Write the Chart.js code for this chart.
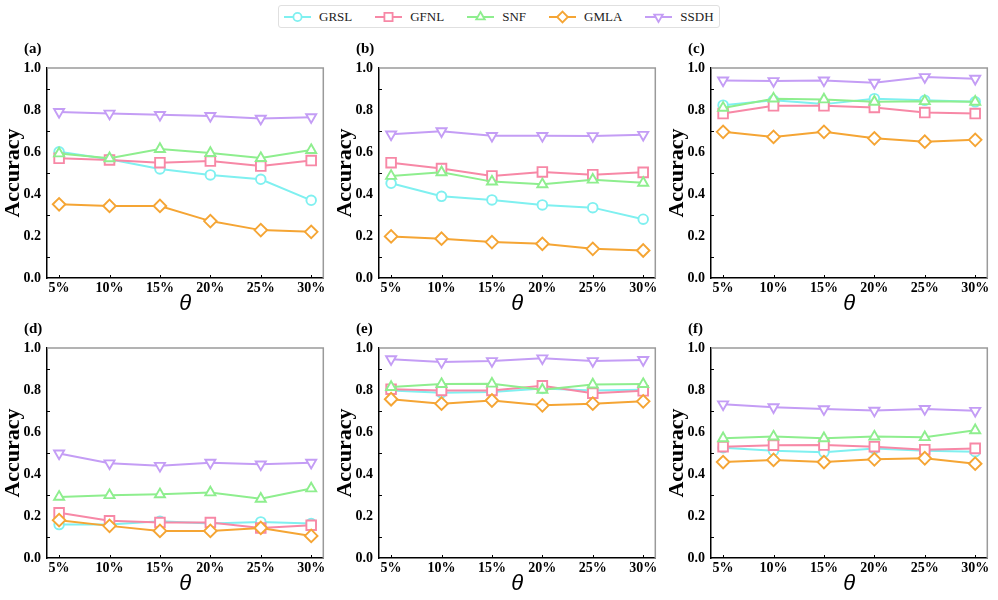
<!DOCTYPE html>
<html>
<head>
<meta charset="utf-8">
<script src="https://cdn.jsdelivr.net/npm/chart.js@4.4.1/dist/chart.umd.min.js"></script>
<style>
  body { margin: 0; width: 998px; height: 600px; background: #fff; position: relative; overflow: hidden; }
  .panel { position: absolute; width: 332px; height: 280px; }
  #legend {
    position: absolute; left: 278px; top: 5px; height: 21px;
    display: inline-flex; align-items: center; padding: 0 5px;
    border: 1px solid #e0e0e0; border-radius: 3px;
    font: 13px "Liberation Serif", serif; color: #222;
  }
  #legend .item { display: flex; align-items: center; margin-left: 23px; }
  #legend .item:first-child { margin-left: 0; }
  #legend span { margin-left: 8px; }
</style>
</head>
<body>
<div id="legend"></div>
<script>
const thetaLabels = ['5%', '10%', '15%', '20%', '25%', '30%'];
const seriesNames = ['GRSL', 'GFNL', 'SNF', 'GMLA', 'SSDH'];
const seriesColors = ['#7ff0f0', '#f788a6', '#8eee8e', '#f5a534', '#c49df5'];
const pointStyles = ['circle', 'rect', 'triangle', 'rectRot', 'triangle'];
const pointRotations = [0, 0, 0, 0, 180];
const pointSizes = [4.8, 6.8, 5.8, 6.3, 5.8];
const minorTicks = [0.1, 0.3, 0.5, 0.7, 0.9];
const panelLabels = ['(a)', '(b)', '(c)', '(d)', '(e)', '(f)'];

// rows follow seriesNames: GRSL, GFNL, SNF, GMLA, SSDH
const panelA = [
  [0.601, 0.565, 0.519, 0.491, 0.470, 0.370],
  [0.570, 0.562, 0.549, 0.557, 0.533, 0.559],
  [0.593, 0.570, 0.614, 0.595, 0.571, 0.609],
  [0.351, 0.343, 0.343, 0.271, 0.228, 0.220],
  [0.791, 0.783, 0.777, 0.772, 0.759, 0.766]
];
const panelB = [
  [0.451, 0.389, 0.372, 0.348, 0.335, 0.280],
  [0.549, 0.521, 0.486, 0.505, 0.492, 0.503],
  [0.486, 0.503, 0.459, 0.446, 0.468, 0.453],
  [0.198, 0.187, 0.171, 0.163, 0.139, 0.131],
  [0.684, 0.699, 0.677, 0.677, 0.676, 0.682]
];
const panelC = [
  [0.823, 0.846, 0.828, 0.854, 0.846, 0.839],
  [0.783, 0.820, 0.820, 0.812, 0.788, 0.783],
  [0.810, 0.854, 0.850, 0.839, 0.842, 0.839],
  [0.696, 0.672, 0.696, 0.665, 0.649, 0.658],
  [0.941, 0.938, 0.941, 0.930, 0.957, 0.949]
];
const panelD = [
  [0.159, 0.159, 0.175, 0.164, 0.172, 0.164],
  [0.215, 0.177, 0.169, 0.169, 0.143, 0.156],
  [0.291, 0.299, 0.303, 0.312, 0.282, 0.331],
  [0.180, 0.153, 0.129, 0.129, 0.143, 0.105],
  [0.498, 0.451, 0.439, 0.454, 0.446, 0.454]
];
const panelE = [
  [0.798, 0.787, 0.791, 0.807, 0.798, 0.801],
  [0.804, 0.798, 0.798, 0.820, 0.785, 0.796],
  [0.814, 0.828, 0.830, 0.801, 0.826, 0.828],
  [0.756, 0.735, 0.750, 0.727, 0.735, 0.746],
  [0.947, 0.933, 0.938, 0.951, 0.938, 0.943]
];
const panelF = [
  [0.525, 0.511, 0.504, 0.521, 0.511, 0.506],
  [0.530, 0.537, 0.538, 0.530, 0.516, 0.522],
  [0.570, 0.578, 0.570, 0.578, 0.575, 0.608],
  [0.457, 0.467, 0.457, 0.470, 0.475, 0.449],
  [0.732, 0.718, 0.709, 0.702, 0.710, 0.701]
];
const panels = [panelA, panelB, panelC, panelD, panelE, panelF];

const serif = '"Liberation Serif", "Times New Roman", serif';

// gray top/right frame, inward ticks, panel letter
const framePlugin = {
  id: 'frame',
  afterDraw(chart, args, opts) {
    const { ctx, chartArea: a, scales: { x, y } } = chart;
    ctx.save();
    ctx.strokeStyle = '#9a9a9a';
    ctx.lineWidth = 1.5;
    ctx.beginPath();
    ctx.moveTo(a.left, a.top);
    ctx.lineTo(a.right, a.top);
    ctx.lineTo(a.right, a.bottom);
    ctx.stroke();

    ctx.strokeStyle = '#000';
    ctx.lineWidth = 1;
    ctx.beginPath();
    minorTicks.forEach(v => {
      const py = Math.round(y.getPixelForValue(v)) + 0.5;
      ctx.moveTo(a.left, py);
      ctx.lineTo(a.left + 3, py);
    });
    thetaLabels.forEach((_, i) => {
      const px = Math.round(x.getPixelForValue(i)) + 0.5;
      ctx.moveTo(px, a.bottom);
      ctx.lineTo(px, a.bottom - 3);
    });
    ctx.stroke();

    ctx.fillStyle = '#000';
    ctx.font = 'bold 15px ' + serif;
    ctx.textAlign = 'left';
    ctx.textBaseline = 'middle';
    ctx.fillText(opts.text, a.left - 23, 19);
    ctx.restore();
  }
};

panels.forEach((rows, p) => {
  const div = document.createElement('div');
  div.className = 'panel';
  div.style.left = (p % 3) * 332 + 'px';
  div.style.top = (30 + Math.floor(p / 3) * 280) + 'px';
  const canvas = document.createElement('canvas');
  div.appendChild(canvas);
  document.body.appendChild(div);

  new Chart(canvas, {
    type: 'line',
    data: {
      datasets: rows.map((vals, s) => ({
        label: seriesNames[s],
        data: vals.map((v, i) => ({ x: i, y: v })),
        borderColor: seriesColors[s],
        backgroundColor: '#fff',
        borderWidth: 2,
        tension: 0,
        pointStyle: pointStyles[s],
        rotation: pointRotations[s],
        pointRadius: pointSizes[s],
        pointBorderWidth: 1.9,
        pointBackgroundColor: '#fff',
        pointBorderColor: seriesColors[s],
        order: seriesNames.length - s
      }))
    },
    options: {
      responsive: true,
      maintainAspectRatio: false,
      animation: false,
      layout: { padding: { left: 0, right: 5, top: 38, bottom: 0 } },
      plugins: {
        legend: { display: false },
        tooltip: { enabled: false },
        frame: { text: panelLabels[p] }
      },
      scales: {
        x: {
          type: 'linear',
          min: -0.24,
          max: 5.24,
          afterBuildTicks: s => { s.ticks = thetaLabels.map((_, i) => ({ value: i })); },
          afterFit: s => { s.height = 32; },
          grid: { display: false, drawTicks: false },
          border: { color: '#000', width: 1.5 },
          ticks: {
            autoSkip: false,
            maxRotation: 0,
            padding: 2,
            color: '#000',
            font: { family: serif, size: 14, weight: 'bold' },
            callback: v => thetaLabels[v]
          },
          title: {
            display: true,
            text: 'θ',
            color: '#000',
            padding: 0,
            font: { family: '"Liberation Sans", sans-serif', size: 22, style: 'italic', lineHeight: 0.6 }
          }
        },
        y: {
          min: 0,
          max: 1,
          afterFit: s => { s.width = 47; },
          grid: { display: false, drawTicks: false },
          border: { color: '#000', width: 1.5 },
          ticks: {
            stepSize: 0.2,
            padding: 6,
            color: '#000',
            font: { family: serif, size: 14, weight: 'bold' },
            callback: v => v.toFixed(1)
          },
          title: {
            display: true,
            text: 'Accuracy',
            color: '#000',
            padding: { top: 0, bottom: 0 },
            font: { family: serif, size: 22, weight: 'bold' }
          }
        }
      }
    },
    plugins: [framePlugin]
  });
});

// legend: line + marker drawn with Chart.js point helper
const legend = document.getElementById('legend');
seriesNames.forEach((name, s) => {
  const item = document.createElement('div');
  item.className = 'item';
  const c = document.createElement('canvas');
  c.width = 27; c.height = 14;
  const ctx = c.getContext('2d');
  ctx.strokeStyle = seriesColors[s];
  ctx.lineWidth = 2;
  ctx.beginPath();
  ctx.moveTo(0, 7); ctx.lineTo(27, 7);
  ctx.stroke();
  ctx.fillStyle = '#fff';
  ctx.lineWidth = 1.8;
  Chart.helpers.drawPoint(ctx, {
    pointStyle: pointStyles[s],
    rotation: pointRotations[s],
    radius: pointSizes[s] * 0.85,
    borderWidth: 1.8
  }, 13.5, 7);
  const span = document.createElement('span');
  span.textContent = name;
  item.appendChild(c);
  item.appendChild(span);
  legend.appendChild(item);
});
</script>
</body>
</html>
